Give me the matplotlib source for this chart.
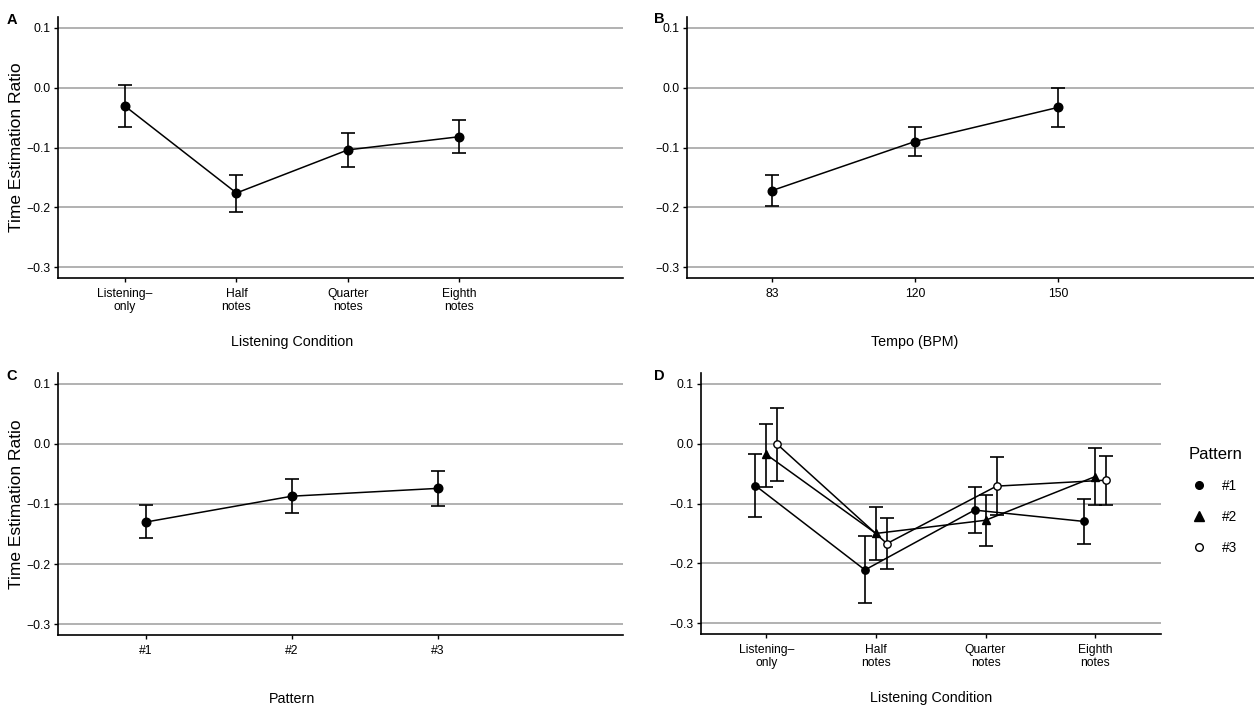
# %% imports

import matplotlib
matplotlib.use("Agg")
import matplotlib.pyplot as plt
from matplotlib.lines import Line2D
from matplotlib.transforms import blended_transform_factory

plt.rcParams["font.family"] = ["Liberation Sans", "DejaVu Sans"]

# %% data

cond_labels = ["Listening\u2013\nonly", "Half\nnotes", "Quarter\nnotes", "Eighth\nnotes"]
cond_mean = [-0.031, -0.176, -0.104, -0.082]
cond_lo = [-0.066, -0.207, -0.132, -0.110]
cond_hi = [0.004, -0.146, -0.076, -0.054]

tempo_labels = ["83", "120", "150"]
tempo_mean = [-0.172, -0.090, -0.033]
tempo_lo = [-0.197, -0.115, -0.065]
tempo_hi = [-0.146, -0.066, -0.001]

pattern_labels = ["#1", "#2", "#3"]
pattern_mean = [-0.130, -0.087, -0.074]
pattern_lo = [-0.157, -0.115, -0.104]
pattern_hi = [-0.102, -0.059, -0.045]

# panel D: condition x pattern
p1_mean = [-0.070, -0.211, -0.111, -0.130]
p1_lo = [-0.122, -0.266, -0.149, -0.168]
p1_hi = [-0.018, -0.155, -0.072, -0.092]
p2_mean = [-0.018, -0.150, -0.128, -0.055]
p2_lo = [-0.072, -0.194, -0.171, -0.103]
p2_hi = [0.033, -0.106, -0.086, -0.007]
p3_mean = [-0.001, -0.167, -0.071, -0.061]
p3_lo = [-0.062, -0.209, -0.120, -0.103]
p3_hi = [0.059, -0.124, -0.023, -0.020]

y_ticks = [-0.3, -0.2, -0.1, 0.0, 0.1]

# %% layout helpers

W, H = 1254, 708
fig = plt.figure(figsize=(W / 100, H / 100), dpi=100)


def make_axes(left, right, top, bottom):
    return fig.add_axes([left / W, 1 - bottom / H, (right - left) / W, (bottom - top) / H])


def style(ax, labels, xlim, xlabel, ylabel, height_px):
    x = list(range(1, len(labels) + 1))
    ax.set_xlim(*xlim)
    ax.set_ylim(-0.318, 0.118)
    ax.set_yticks(y_ticks)
    ax.set_yticklabels([f"{t:.1f}".replace("-", "\u2212") for t in y_ticks])
    ax.set_xticks(x)
    ax.set_xticklabels(labels, linespacing=1.1)
    ax.yaxis.grid(True, color="#ababab", lw=1.3)
    ax.set_axisbelow(True)
    for s in ["top", "right"]:
        ax.spines[s].set_visible(False)
    for s in ["left", "bottom"]:
        ax.spines[s].set_linewidth(1.2)
    ax.tick_params(direction="out", length=3, width=1, labelsize=8.7, colors="black", pad=2.5)
    ax.tick_params(axis="x", pad=4)
    ax.set_xlabel(xlabel, fontsize=10.3)
    tr = blended_transform_factory(ax.transData, ax.transAxes)
    ax.xaxis.set_label_coords((1 + len(labels)) / 2, -57 / height_px, transform=tr)
    if ylabel:
        ax.set_ylabel(ylabel, fontsize=12.5, labelpad=1.5)


def draw(ax, xs, mean, lo, hi, marker="o", mfc="black", ms=6.2, cap=4.8):
    yerr = [[m - l for m, l in zip(mean, lo)], [h - m for m, h in zip(mean, hi)]]
    ax.errorbar(xs, mean, yerr=yerr, fmt="none", ecolor="black", elinewidth=1.2,
                capsize=cap, capthick=1.2, zorder=3)
    ax.plot(xs, mean, color="black", lw=1.1, marker=marker, ms=ms, mfc=mfc,
            mec="black", mew=1.0, zorder=4)


# %% panel A

axA = make_axes(58, 623, 17, 278)
draw(axA, [1, 2, 3, 4], cond_mean, cond_lo, cond_hi)
style(axA, cond_labels, (0.398, 5.47), "Listening Condition", "Time Estimation Ratio", 261)

# %% panel B

axB = make_axes(687, 1254, 17, 278)
draw(axB, [1, 2, 3], tempo_mean, tempo_lo, tempo_hi)
style(axB, tempo_labels, (0.406, 4.37), "Tempo (BPM)", None, 261)

# %% panel C

axC = make_axes(58, 623, 373, 635)
draw(axC, [1, 2, 3], pattern_mean, pattern_lo, pattern_hi)
style(axC, pattern_labels, (0.397, 4.27), "Pattern", "Time Estimation Ratio", 262)

# %% panel D

axD = make_axes(701, 1161, 373, 634)
series = [
    (p1_mean, p1_lo, p1_hi, "o", "black", -0.1),
    (p2_mean, p2_lo, p2_hi, "^", "black", 0.0),
    (p3_mean, p3_lo, p3_hi, "o", "white", 0.1),
]
for mean, lo, hi, mk, fc, off in series:
    xs = [i + 1 + off for i in range(len(mean))]
    draw(axD, xs, mean, lo, hi, marker=mk, mfc=fc, ms=5.3, cap=5.0)
style(axD, cond_labels, (0.405, 4.6), "Listening Condition", None, 261)

handles = [
    Line2D([], [], ls="none", marker="o", ms=5.5, mfc="black", mec="black"),
    Line2D([], [], ls="none", marker="^", ms=6.5, mfc="black", mec="black"),
    Line2D([], [], ls="none", marker="o", ms=5.5, mfc="white", mec="black"),
]
fig.legend(handles, pattern_labels, title="Pattern", loc="upper left",
           bbox_to_anchor=(1189 / W, 1 - 447 / H), frameon=False, fontsize=9.8,
           title_fontsize=12, alignment="left", handlelength=1.5, handletextpad=0.9,
           labelspacing=1.25, borderpad=0, borderaxespad=0)

# %% panel letters

for letter, (px, py) in zip("ABCD", [(12, 20), (659, 19), (12, 376), (659, 376)]):
    fig.text(px / W, 1 - py / H, letter, fontsize=10.5, fontweight="bold",
             ha="center", va="center")

fig.savefig("out.png", dpi=100)
